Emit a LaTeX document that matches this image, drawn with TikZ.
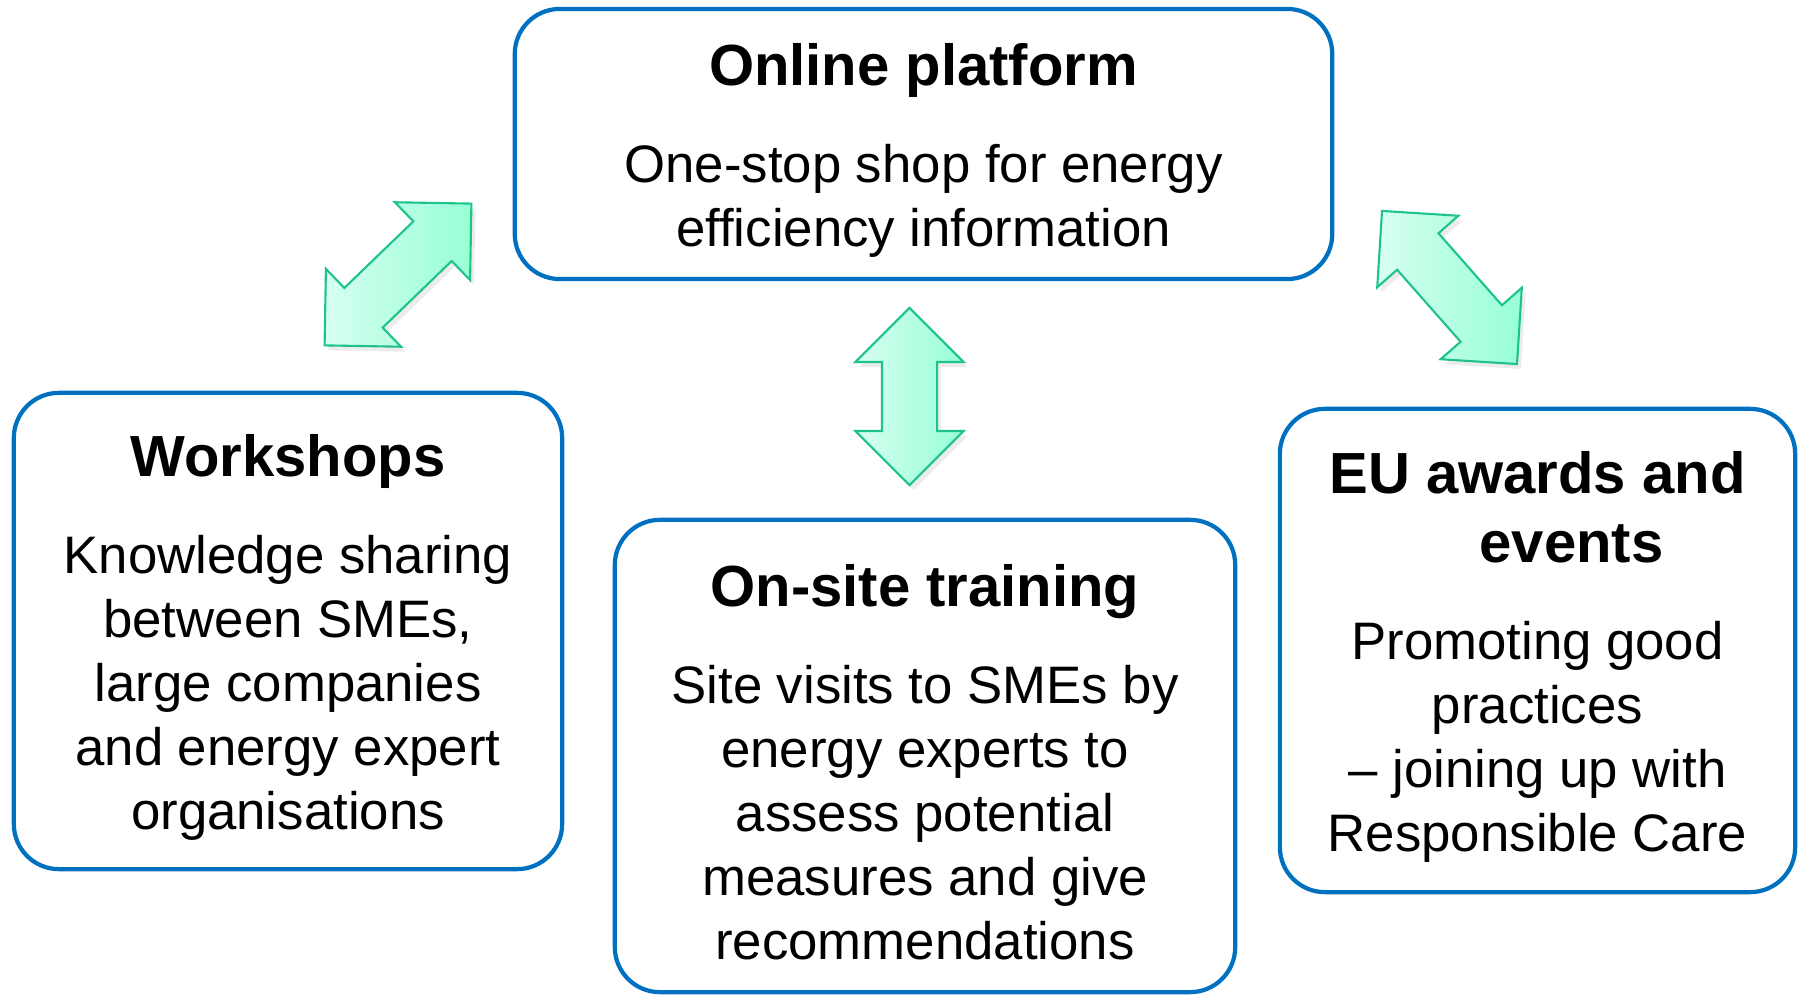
\documentclass[tikz,border=0pt]{standalone}
\usepackage{fontspec}
\setmainfont{Liberation Sans}
\usetikzlibrary{shapes.arrows, shadows}

\definecolor{boxblue}{RGB}{0,112,192}
\definecolor{mintfill}{RGB}{150,255,214}
\definecolor{mintlight}{RGB}{215,255,240}
\definecolor{mintline}{RGB}{30,195,140}
\newcommand{\boxtitle}{\fontsize{16.5}{19.6}\selectfont\bfseries\rule{0pt}{15.5pt}}

\begin{document}
\begin{tikzpicture}[
        x=0.01cm, y=-0.01cm,
        every node/.style={font=\fontsize{15}{18.2}\selectfont},
        box/.style={draw=boxblue, line width=1.2pt, rounded corners=0.45cm, align=center, inner sep=0pt},
        link/.style={double arrow, draw=mintline, line width=0.6pt, left color=mintlight, right color=mintfill,
            double arrow tip angle=90, double arrow head extend=0.265cm, inner xsep=0pt, inner ysep=0.265cm,
            drop shadow={opacity=0.15, shadow xshift=0.04cm, shadow yshift=-0.05cm}}
    ]
    \useasboundingbox (0,0) rectangle (1798,995);

    \node[box, minimum width=8.17cm, minimum height=2.70cm] (platform) at (923.5,144)
        {\boxtitle Online platform\\[9.4pt]One-stop shop for energy\\efficiency information};
    \node[box, minimum width=5.48cm, minimum height=4.76cm] (workshops) at (288,631)
        {\boxtitle Workshops\\[9.4pt]Knowledge sharing\\between SMEs,\\large companies\\and energy expert\\organisations};
    \node[box, minimum width=6.20cm, minimum height=4.72cm] (onsite) at (925,756)
        {\boxtitle On-site training\\[9.4pt]Site visits to SMEs by\\energy experts to\\assess potential\\measures and give\\recommendations};
    \node[box, minimum width=5.15cm, minimum height=4.83cm] (awards) at (1537.5,650.5)
        {\boxtitle EU awards and\\[1.4pt]\boxtitle\hspace*{0.68cm}events\\[9.4pt]Promoting good\\practices\\-- joining up with\\Responsible Care};

    % two-way links between the platform and the other activities
    \node[link, minimum height=2.04cm, rotate=44] (link_workshops) at (398,274.5) {};
    \node[link, minimum height=1.77cm, rotate=90] (link_onsite) at (909.5,396.5) {};
    \node[link, minimum height=2.04cm, rotate=-48.6] (link_awards) at (1449.5,287.5) {};

\end{tikzpicture}
\end{document}
